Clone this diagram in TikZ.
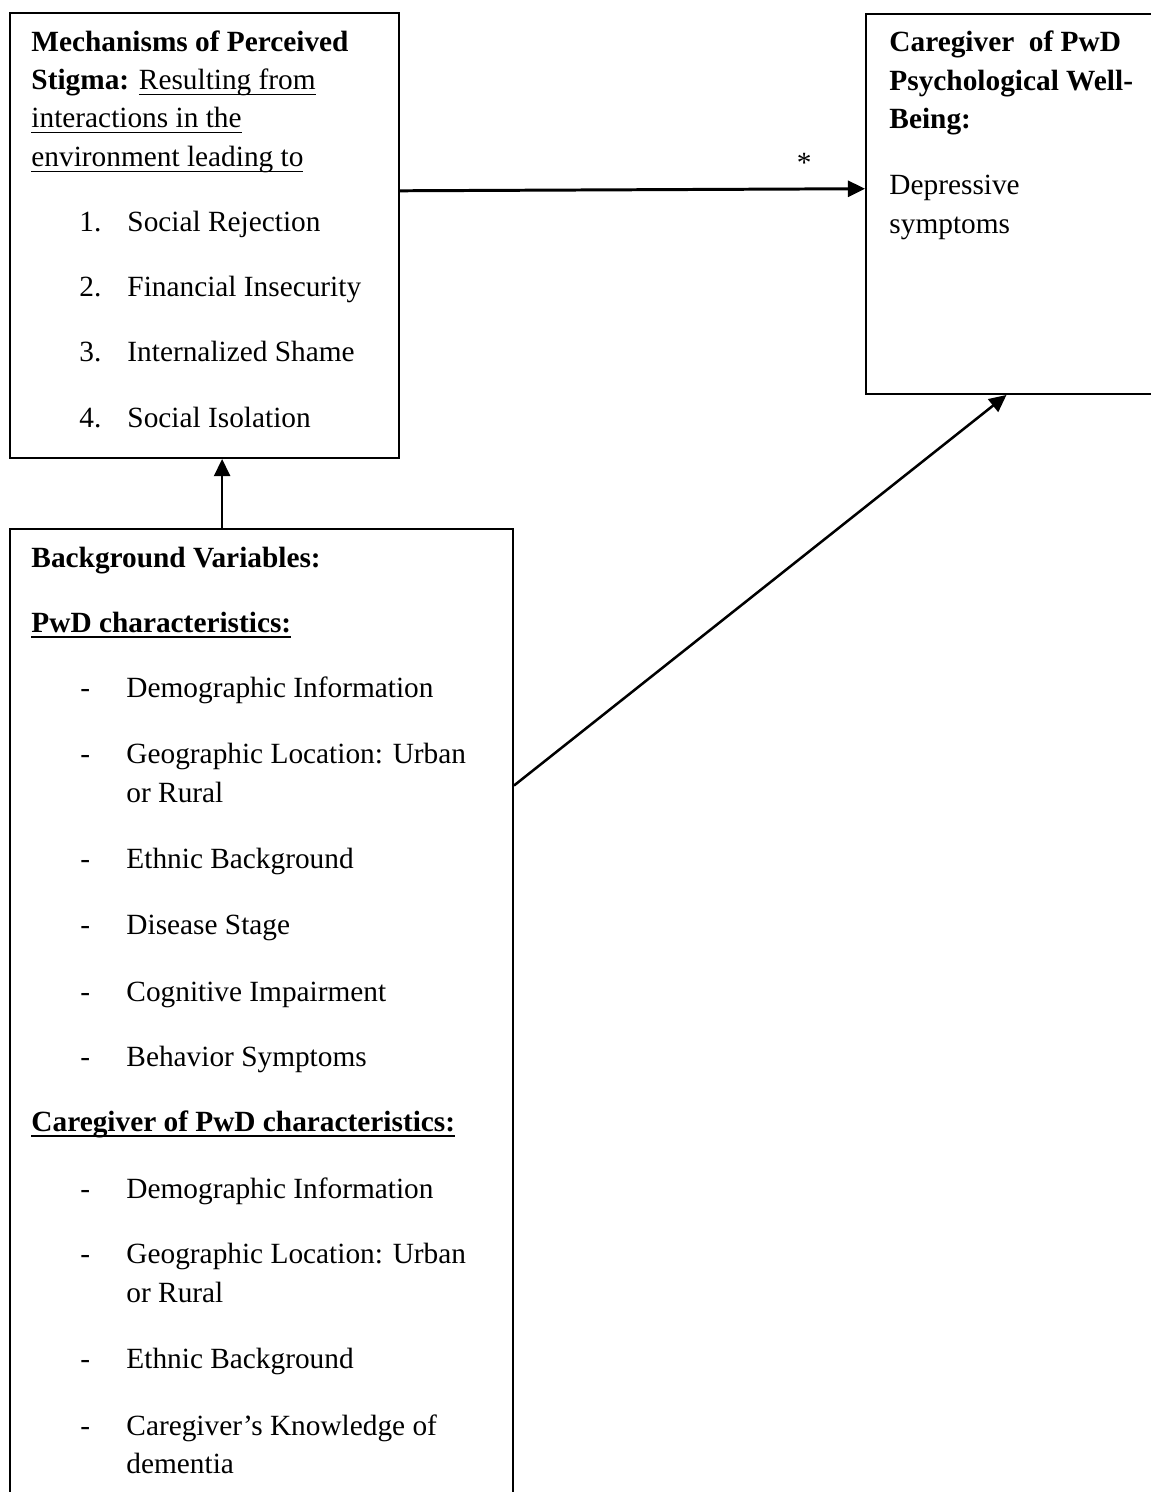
\documentclass[tikz,border=0pt]{standalone}
\usepackage{fontspec}
\setmainfont{Liberation Serif}
\usetikzlibrary{arrows.meta,fit,calc}
\newcommand{\uln}[1]{\setbox0\hbox{#1}\rlap{\rule[-2.3pt]{\wd0}{.65pt}}\box0}
\newcommand{\ulb}[1]{\setbox0\hbox{#1}\rlap{\rule[-2.7pt]{\wd0}{1pt}}\box0}
\begin{document}
\begin{tikzpicture}[x=.4365pt,y=-.4365pt,
    box/.style={draw,line width=.85pt,inner sep=0pt},
    arr/.style={-{Triangle[length=7.5pt,width=7pt]},line width=1.1pt},
    txt/.style={anchor=base west,inner sep=0pt,font=\fontsize{12.8pt}{15pt}\selectfont}]
  \useasboundingbox (0,0) rectangle (1150,1492);
  % the three boxes
  \node[box,fit={(10,13) (399,458)}] (M) {};
  \node[box,fit={(866,14) (1165,394)}] (W) {};
  \node[box,fit={(10,529) (513,1510)}] (B) {};
  % perceived stigma
  \foreach \y/\t [count=\i] in {52/{\textbf{Mechanisms of Perceived}},
      90/{\textbf{Stigma:} \uln{Resulting from}},
      128/{\uln{interactions in the}},
      167/{\uln{environment leading to}}}
    \node[txt] (M\i) at (31,\y) {\t};
  \foreach \y/\n/\t [count=\i] in {232/1./Social Rejection,297/2./Financial Insecurity,
      362/3./Internalized Shame,428/4./Social Isolation}{
    \node[txt] (Mn\i) at (79,\y) {\n};
    \node[txt] (Mi\i) at (127,\y) {\t};
  }
  % well-being
  \foreach \y/\t [count=\i] in {52/{\textbf{Caregiver~ of PwD}},91/{\textbf{Psychological Well-}},
      129/{\textbf{Being:}},195/Depressive,234/symptoms}
    \node[txt] (W\i) at (889,\y) {\t};
  % background variables
  \foreach \y/\x/\t [count=\i] in {567/31/{\textbf{Background Variables:}},
      632/31/{\ulb{\textbf{PwD characteristics:}}},
      697/80/-,697/126/Demographic Information,
      763/80/-,763/126/Geographic Location: Urban,
      802/126/or Rural,
      868/80/-,868/126/Ethnic Background,
      934/80/-,934/126/Disease Stage,
      1001/80/-,1001/126/Cognitive Impairment,
      1066/80/-,1066/126/Behavior Symptoms,
      1131/31/{\ulb{\textbf{Caregiver of PwD characteristics:}}},
      1198/80/-,1198/126/Demographic Information,
      1263/80/-,1263/126/Geographic Location: Urban,
      1302/126/or Rural,
      1368/80/-,1368/126/Ethnic Background,
      1435/80/-,1435/126/Caregiver’s Knowledge of,
      1473/126/dementia}
    \node[txt] (B\i) at (\x,\y) {\t};
  % paths
  \draw[arr,line width=1.3pt] ($(M.north east)!.4!(M.south east)$) --
    node[pos=.869,anchor=base,yshift=7.4pt,inner sep=0pt,font=\fontsize{12.8pt}{15pt}\selectfont] (S) {*}
    ($(W.north west)!.46!(W.south west)$);
  \draw[arr] ($(B.north west)!.422!(B.north east)$) coordinate (up) -- (up |- M.south);
  \draw[arr] ($(B.north east)!.262!(B.south east)$) -- ($(W.south west)!.47!(W.south east)$);
\end{tikzpicture}
\end{document}
